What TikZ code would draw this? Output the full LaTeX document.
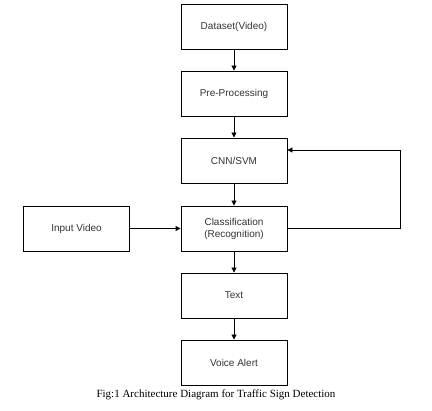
\documentclass[tikz,border=0pt]{standalone}
\usepackage{fontspec}
\setmainfont{Liberation Serif}
\newfontfamily\boxfont{Liberation Sans}
\usetikzlibrary{arrows.meta}
\definecolor{boxtext}{HTML}{333333}
\begin{document}
\begin{tikzpicture}[x=1pt,y=-1pt,
  blk/.style={draw=black,line width=0.9pt,minimum width=106pt,minimum height=45pt,inner sep=0pt,align=center,font=\boxfont\fontsize{10}{12}\selectfont,text=boxtext},
  conn/.style={draw=black,line width=0.9pt,-{Triangle[length=5pt,width=5pt]}}]
\useasboundingbox (0,0) rectangle (432,411);
\node[blk] (ds) at (234,26.5) {Dataset(Video)};
\node[blk] (pp) at (234,93.5) {Pre-Processing};
\node[blk] (cnn) at (234,160.5) {CNN/SVM};
\node[blk] (cls) at (234,228.5) {Classification\\(Recognition)};
\node[blk] (iv) at (76.5,228.5) {Input Video};
\node[blk] (txt) at (234,295.5) {Text};
\node[blk] (va) at (234,362.5) {Voice Alert};
\node[font=\fontsize{11}{13}\selectfont] (cap) at (216,395) {Fig:1 Architecture Diagram for Traffic Sign Detection};
\coordinate (c1) at (400,228.5);
\coordinate (c2) at (400,150);
\draw[conn] (ds) -- (pp);
\draw[conn] (pp) -- (cnn);
\draw[conn] (cnn) -- (cls);
\draw[conn] (cls) -- (txt);
\draw[conn] (txt) -- (va);
\draw[conn] (iv) -- (cls);
\draw[conn] (cls.east) -- (c1) -- (c2) -- (cnn.east |- c2);
\end{tikzpicture}
\end{document}
